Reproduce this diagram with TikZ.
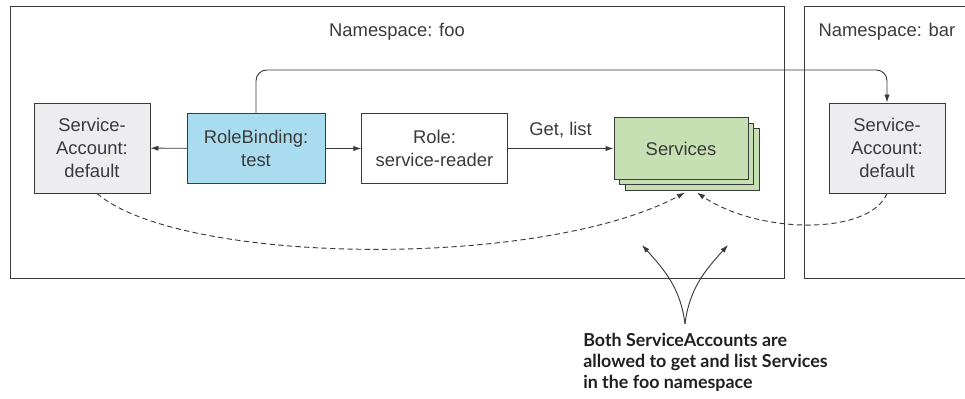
\documentclass[tikz,border=0pt]{standalone}
\usepackage{fontspec}
\setmainfont{Liberation Sans}
\newfontfamily\notefont{Lato}
\usetikzlibrary{arrows.meta,positioning,calc}
\definecolor{edge}{HTML}{3A3A3A}
\definecolor{acctfill}{HTML}{EDEDEF}
\definecolor{bindfill}{HTML}{A9DCEE}
\definecolor{svcfill}{HTML}{C6E0B4}
\definecolor{notetext}{HTML}{231F20}

\begin{document}
\begin{tikzpicture}[x=0.75pt,y=-0.75pt,>={Latex[length=6pt,width=4pt]},
  txt/.style={font=\fontsize{13.8}{17.5}\selectfont,text=edge},
  box/.style={txt,draw=edge,line width=0.7pt,align=center,inner sep=0pt},
  acct/.style={box,fill=acctfill,minimum width=87pt,minimum height=67.5pt},
  link/.style={draw=edge,line width=0.7pt},
  hint/.style={link,dashed,dash pattern=on 4pt off 2.5pt}]
  \useasboundingbox (0,0) rectangle (965,399);
  % namespaces
  \draw[link] (10,6) rectangle (784,278);
  \draw[link] (965,6) -- (804,6) -- (804,278) -- (965,278);
  \node[txt] (nsfoo) at (397,32) {Namespace: foo};
  \node[txt] (nsbar) at (887,32) {Namespace: bar};
  % objects
  \node[acct] (sa1) at (92,148) {Service-\\Account:\\default};
  \node[box,fill=bindfill,minimum width=103.5pt,minimum height=52pt] (rb) at (256,148.5) {RoleBinding:\\test};
  \node[box,fill=white,minimum width=109pt,minimum height=52pt] (role) at (434.5,148.5) {Role:\\service-reader};
  \foreach \i/\d in {3/11,2/5.5}
    \node[box,fill=svcfill,minimum width=100.5pt,minimum height=46pt] (svc\i) at (681+\d,148.5+\d) {};
  \node[box,fill=svcfill,minimum width=100.5pt,minimum height=46pt] (svc) at (681,148.5) {Services};
  \node[acct] (sa2) at (887,148) {Service-\\Account:\\default};
  % bindings
  \draw[link,->] (rb) -- (sa1);
  \draw[link,->] (rb) -- (role);
  \draw[link,->] (role) -- node[txt,above=4pt] (verbs) {Get, list} (svc);
  \draw[link,->,rounded corners=8pt] (rb.north) -- (rb.north |- 0,70) -| (sa2.north);
  % access
  \draw[hint,->] ($(sa1.south)+(5,0)$) .. controls (180,265) and (540,270) .. ($(svc3.south)+(-7,2)$);
  \draw[hint,->] (sa2.south) .. controls (870,235) and (760,235) .. ($(svc3.south)+(5,2)$);
  % callout
  \node[anchor=north west,align=left,inner sep=0pt,text=notetext,
    font=\notefont\bfseries\fontsize{13.4}{15.75}\selectfont] (note) at (583,333)
    {Both ServiceAccounts are\\allowed to get and list Services\\in the foo namespace};
  \coordinate (fork) at (685,324);
  \coordinate (tipl) at (642,245);
  \coordinate (tipr) at (728,245);
  \draw[link,->] (fork) to[out=97,in=-48] (tipl);
  \draw[link,->] (fork) to[out=83,in=-132] (tipr);
\end{tikzpicture}
\end{document}
